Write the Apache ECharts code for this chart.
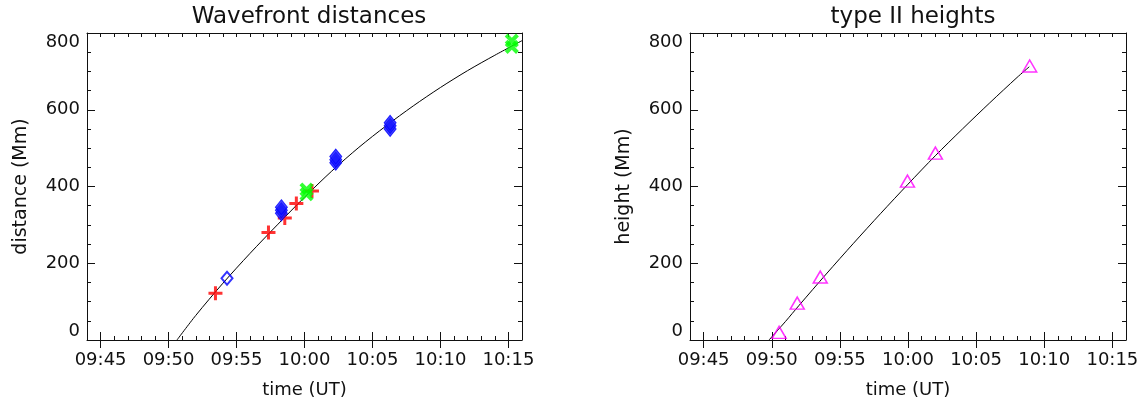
<!DOCTYPE html>
<html>
<head>
<meta charset="utf-8">
<script src="https://cdn.jsdelivr.net/npm/echarts@6/dist/echarts.min.js"></script>
<style>
html, body { margin: 0; padding: 0; background: #fff; }
#main { width: 1144px; height: 403px; }
</style>
</head>
<body>
<div id="main"></div>
<script>
// time axis is in minutes after 09:00 UT
var majorTicks = [45, 50, 55, 60, 65, 70, 75];
var tickLabels = ['09:45', '09:50', '09:55', '10:00', '10:05', '10:10', '10:15'];

// left panel, wavefront distances (Mm)
var plusTime = [53.45, 57.35, 58.55, 59.4, 60.55];
var plusDist = [122, 280, 318, 356, 388];
var openDiaTime = [54.3];
var openDiaDist = [161];
var diaTime = [58.3, 58.3, 58.3, 62.3, 62.3, 62.3, 66.3, 66.3, 66.3];
var diaDist = [330, 338, 346, 462, 470, 478, 550, 558, 566];
var crossTime = [60.15, 60.15, 75.25, 75.25];
var crossDist = [380, 392, 764, 780];
var fitTime = [50.62, 52, 54, 56, 58, 60, 62, 64, 66, 68, 70, 72, 74, 76];
var fitDist = [0, 64, 148, 226, 300, 372, 440, 502, 558, 610, 658, 702, 742, 780];

// right panel, type II heights (Mm)
var triTime = [50.54, 51.87, 53.56, 59.96, 62.01, 68.93];
var triHeight = [20, 96, 164, 414, 487, 714];
var hFitTime = [49.8, 51, 52, 54, 56, 58, 60, 62, 64, 66, 68, 68.9];
var hFitHeight = [0, 48, 90, 172, 252, 330, 406, 480, 550, 618, 684, 712];

function pairs(xs, ys) {
	var out = [];
	for(var i = 0; i < xs.length; i++) {
		out.push([xs[i], ys[i]]);
	}
	return out;
}

var minorX = [];
for(var m = 44; m <= 76; m++) minorX.push(m);

var font = 'DejaVu Sans';
var ink = '#111';
var plusPath = 'path://M-1.5,-7H1.5V-1.5H7V1.5H1.5V7H-1.5V1.5H-7V-1.5H-1.5Z';
var xPath = 'path://M-2,-8H2V-2H8V2H2V8H-2V2H-8V-2H-2Z';

function timeLabel(v) {
	var i = majorTicks.indexOf(v);
	return i < 0 ? '' : tickLabels[i];
}

function xAxes(g) {
	var base = {
		gridIndex: g, type: 'value', min: 44, max: 76,
		splitLine: { show: false },
		axisLine: { show: true, onZero: false, lineStyle: { color: ink, width: 1 } }
	};
	return [
		// bottom, minor ticks + labels
		Object.assign({}, base, {
			position: 'bottom', name: 'time (UT)', nameLocation: 'middle', nameGap: 41,
			nameTextStyle: { fontFamily: font, fontSize: 18, color: ink },
			axisTick: { inside: true, length: 4, customValues: minorX, lineStyle: { color: ink } },
			axisLabel: { customValues: majorTicks, formatter: timeLabel, fontFamily: font, fontSize: 18, color: ink, margin: 11 }
		}),
		// bottom, major ticks
		Object.assign({}, base, {
			position: 'bottom', axisLine: { show: false },
			axisTick: { inside: true, length: 8, customValues: majorTicks, lineStyle: { color: ink } },
			axisLabel: { show: false }
		}),
		// top mirror
		Object.assign({}, base, {
			position: 'top',
			axisTick: { inside: true, length: 4, customValues: minorX, lineStyle: { color: ink } },
			axisLabel: { show: false }
		}),
		Object.assign({}, base, {
			position: 'top', axisLine: { show: false },
			axisTick: { inside: true, length: 8, customValues: majorTicks, lineStyle: { color: ink } },
			axisLabel: { show: false }
		})
	];
}

function yAxes(g, name) {
	var base = {
		gridIndex: g, type: 'value', min: 0, max: 800, interval: 200,
		splitLine: { show: false },
		axisLine: { show: true, onZero: false, lineStyle: { color: ink, width: 1 } },
		axisTick: { inside: true, length: 8, lineStyle: { color: ink } },
		minorTick: { show: true, splitNumber: 4, length: 4, lineStyle: { color: ink } }
	};
	return [
		Object.assign({}, base, {
			position: 'left', name: name, nameLocation: 'middle', nameGap: 56, nameRotate: 90,
			nameTextStyle: { fontFamily: font, fontSize: 19, color: ink },
			axisLabel: {
				fontFamily: font, fontSize: 18, color: ink, margin: 7,
				verticalAlignMinLabel: 'bottom', verticalAlignMaxLabel: 'top'
			}
		}),
		Object.assign({}, base, { position: 'right', axisLabel: { show: false } })
	];
}

var myChart = echarts.init(document.getElementById('main'), null, { renderer: 'canvas' });

var option = {
	backgroundColor: '#fff',
	animation: false,
	title: [
		{ text: 'Wavefront distances', left: 304, top: 1, textAlign: 'center',
			textStyle: { fontFamily: font, fontSize: 23, fontWeight: 'normal', color: ink } },
		{ text: 'type II heights', left: 908, top: 1, textAlign: 'center',
			textStyle: { fontFamily: font, fontSize: 23, fontWeight: 'normal', color: ink } }
	],
	grid: [
		{ left: 87, top: 33, width: 435, height: 307, containLabel: false, outerBoundsMode: 'none' },
		{ left: 690, top: 33, width: 436, height: 307, containLabel: false, outerBoundsMode: 'none' }
	],
	xAxis: xAxes(0).concat(xAxes(1)),
	yAxis: yAxes(0, 'distance (Mm)').concat(yAxes(1, 'height (Mm)')),
	series: [
		{
			type: 'line', xAxisIndex: 0, yAxisIndex: 0, data: pairs(fitTime, fitDist),
			showSymbol: false, smooth: 0.3, lineStyle: { color: '#000', width: 1 }, z: 1
		},
		{
			type: 'scatter', xAxisIndex: 0, yAxisIndex: 0, data: pairs(plusTime, plusDist),
			symbol: plusPath, symbolSize: 14, itemStyle: { color: '#ff0000' }, z: 2
		},
		{
			type: 'scatter', xAxisIndex: 0, yAxisIndex: 0, data: pairs(openDiaTime, openDiaDist),
			symbol: 'diamond', symbolSize: [11, 13],
			itemStyle: { color: 'rgba(0,0,0,0)', borderColor: '#0000ff', borderWidth: 2 }, z: 3
		},
		{
			type: 'scatter', xAxisIndex: 0, yAxisIndex: 0, data: pairs(diaTime, diaDist),
			symbol: 'diamond', symbolSize: [12, 15],
			itemStyle: { color: '#1a1aff', borderColor: '#0000ff', borderWidth: 1 }, z: 3
		},
		{
			type: 'scatter', xAxisIndex: 0, yAxisIndex: 0, data: pairs(crossTime, crossDist),
			symbol: xPath, symbolSize: 16, symbolRotate: 45, itemStyle: { color: '#00ff00' }, z: 4
		},
		{
			type: 'line', xAxisIndex: 4, yAxisIndex: 2, data: pairs(hFitTime, hFitHeight),
			showSymbol: false, smooth: 0.3, lineStyle: { color: '#000', width: 1 }, z: 1
		},
		{
			type: 'scatter', xAxisIndex: 4, yAxisIndex: 2, data: pairs(triTime, triHeight),
			symbol: 'triangle', symbolSize: [14, 12],
			itemStyle: { color: 'rgba(0,0,0,0)', borderColor: '#ff00ff', borderWidth: 1.5 }, z: 2
		}
	]
};
myChart.setOption(option);
</script>
</body>
</html>
